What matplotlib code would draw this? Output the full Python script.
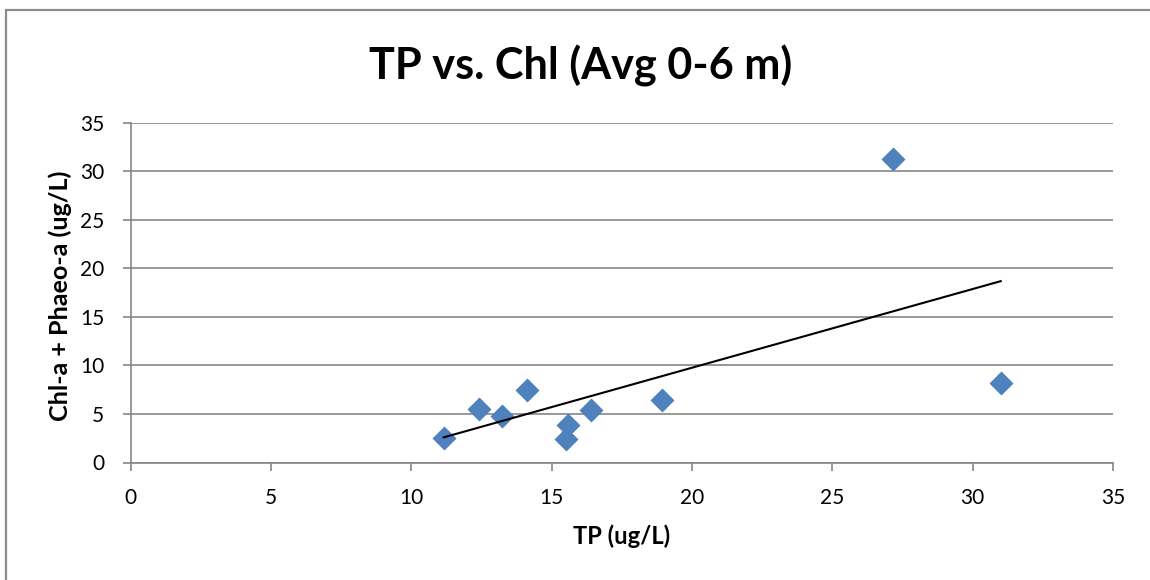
import matplotlib.pyplot as plt
import numpy as np
from matplotlib.patches import Rectangle

# TP (ug/L) vs Chl-a + Phaeo-a (ug/L), averaged 0-6 m
tp = [11.16, 12.43, 13.22, 14.12, 15.58, 15.52, 16.41, 18.94, 27.18, 31.0]
chl = [2.51, 5.48, 4.79, 7.46, 3.89, 2.37, 5.45, 6.39, 31.2, 8.19]

x_ticks = [0, 5, 10, 15, 20, 25, 30, 35]
y_ticks = [0, 5, 10, 15, 20, 25, 30, 35]

plt.rcParams["font.family"] = ["Lato", "DejaVu Sans"]

W, H = 1150, 580
fig = plt.figure(figsize=(W / 100, H / 100), dpi=100)

# chart border (gray frame, cropped on right/bottom)
fig.patches.append(Rectangle((6 / W, -0.05), 1.2, 1 - 10 / H + 0.05,
                             transform=fig.transFigure, fill=False,
                             edgecolor="#8c8c8c", linewidth=1.6))

ax = fig.add_axes([130.5 / W, 1 - 462.5 / H, 982.5 / W, 340 / H])

grid_c = "#868686"
ax.set_xlim(0, 35)
ax.set_ylim(0, 35)
ax.set_xticks(x_ticks)
ax.set_yticks(y_ticks)
ax.yaxis.grid(True, color=grid_c, linewidth=1.2)
ax.set_axisbelow(True)

for side in ("top", "right"):
    ax.spines[side].set_visible(False)
for side in ("left", "bottom"):
    ax.spines[side].set_color(grid_c)
    ax.spines[side].set_linewidth(1.2)

ax.tick_params(axis="both", direction="out", length=6, width=1.2,
               color=grid_c, labelsize=15, labelcolor="black")
ax.tick_params(axis="x", pad=12)
ax.tick_params(axis="y", pad=13)

ax.scatter(tp, chl, marker="D", s=150, color="#4f81bd", zorder=3,
           linewidths=0, clip_on=False)

# linear trendline
slope, icpt = np.polyfit(tp, chl, 1)
xs = np.array([min(tp), max(tp)])
ax.plot(xs, slope * xs + icpt, color="black", linewidth=1.5, zorder=4)

xl = ax.set_xlabel("TP (ug/L)", fontsize=17, fontweight="bold")
yl = ax.set_ylabel("Chl-a + Phaeo-a (ug/L)", fontsize=13, fontweight="bold")
ax.xaxis.set_label_coords(0.5, -(524 - 462.5) / 340)
ax.yaxis.set_label_coords((72 - 130.5) / 982.5, (462.5 - 296) / 340)

title = fig.text(581 / W, 1 - 66 / H, "TP vs. Chl (Avg 0-6 m)", fontsize=31,
                 fontweight="bold", ha="center", va="center")

# scale label fonts so their lengths match the original (Calibri is narrower)
renderer = fig.canvas.get_renderer()
for txt, target, vertical in ((title, 423, False), (xl, 97, False),
                              (yl, 250, True)):
    bb = txt.get_window_extent(renderer)
    size = bb.height if vertical else bb.width
    txt.set_fontsize(txt.get_fontsize() * target / size)

fig.savefig("out.png", dpi=100)
